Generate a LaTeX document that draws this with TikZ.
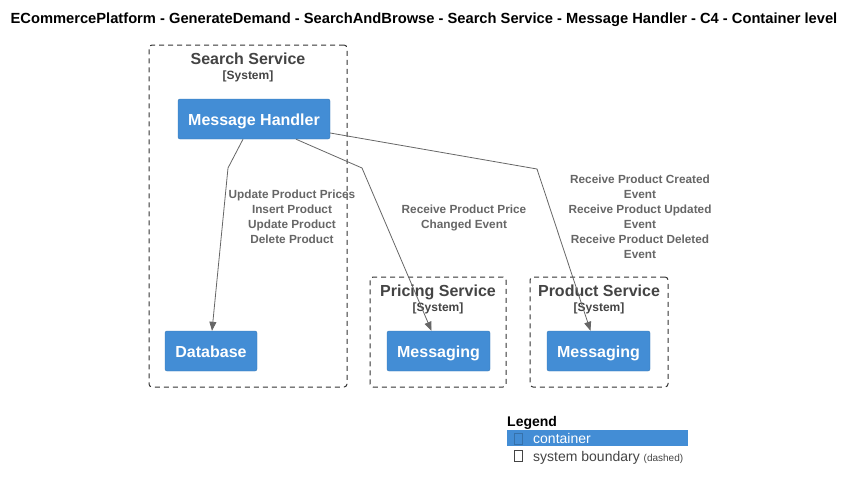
\documentclass[tikz,border=0pt]{standalone}
\usepackage{fontspec}
\setmainfont{Liberation Sans}
\usepackage{tikz}
\usetikzlibrary{positioning}
\usetikzlibrary{arrows.meta}

\definecolor{c4blue}{HTML}{438DD5}
\definecolor{c4dark}{HTML}{444444}
\definecolor{c4line}{HTML}{666666}

\begin{document}
\begin{tikzpicture}[x=1pt,y=-1pt,
  container/.style={fill=c4blue,draw=c4blue!85!black,line width=0.4pt,rounded corners=2pt,
    text=white,font=\fontsize{16}{19}\selectfont\bfseries,minimum height=40pt,inner sep=0pt,
    text height=14pt,text depth=0.5pt},
  boundary/.style={draw=black!80,dash pattern=on 5pt off 4pt,rounded corners=3pt,line width=1pt,inner sep=0pt},
  btitle/.style={text=c4dark,font=\fontsize{16}{19}\selectfont\bfseries,inner sep=0pt,anchor=base},
  bsub/.style={text=c4dark,font=\fontsize{12}{14}\selectfont\bfseries,inner sep=0pt,anchor=base},
  rel/.style={draw=c4line,line width=0.8pt,-{Triangle[length=9pt,width=7pt]}},
  rellabel/.style={text=c4line,align=center,font=\fontsize{11.8}{15}\selectfont\bfseries,inner sep=0pt},
  legtext/.style={anchor=base west,font=\fontsize{14}{16}\selectfont,inner sep=0pt},
  legkey/.style={minimum width=8pt,minimum height=11pt,inner sep=0pt,line width=0.5pt}]
\useasboundingbox (0,0) rectangle (855,490);
\node[font=\fontsize{14.7}{16}\selectfont\bfseries,inner sep=0pt] at(424,20)(0)
  {ECommercePlatform - GenerateDemand - SearchAndBrowse - Search Service - Message Handler - C4 - Container level};
% boundaries
\node[boundary,minimum width=198pt,minimum height=342pt] at(248,216)(s1) {};
\node[boundary,minimum width=136pt,minimum height=110pt] at(438,332)(s2) {};
\node[boundary,minimum width=138pt,minimum height=110pt] at(599,332)(s3) {};
\node[btitle] at(248,64)(t1) {Search Service};
\node[bsub] at(248,79.5)(u1) {[System]};
\node[btitle] at(438,296)(t2) {Pricing Service};
\node[bsub] at(438,311.5)(u2) {[System]};
\node[btitle] at(599,296)(t3) {Product Service};
\node[bsub] at(599,311.5)(u3) {[System]};
% containers
\node[container,minimum width=152pt] at(254,119)(1) {Message Handler};
\node[container,minimum width=92pt] at(211,351)(2) {Database};
\node[container,minimum width=103pt] at(438.5,351)(3) {Messaging};
\node[container,minimum width=103pt] at(598.5,351)(4) {Messaging};
% relations
\coordinate (b1) at(228,168);
\coordinate (b2) at(362,168);
\coordinate (b3) at(537,169);
\draw[rel] ([xshift=-11pt]1.south)--(b1)--([xshift=1pt]2.north);
\draw[rel] ([xshift=42pt]1.south)--(b2)--([xshift=-7pt]3.north);
\draw[rel] ([yshift=-14pt]1.east)--(b3)--([xshift=-8pt]4.north);
\node[rellabel] at(292,216.5)(r1) {Update Product Prices\\Insert Product\\Update Product\\Delete Product};
\node[rellabel] at(464,217.5)(r2) {Receive Product Price\\Changed Event};
\node[rellabel] at(640,217)(r3) {Receive Product Created\\Event\\Receive Product Updated\\Event\\Receive Product Deleted\\Event};
% legend
\node[legtext,font=\fontsize{14}{16}\selectfont\bfseries] at(507,426.5)(l0) {Legend};
\node[fill=c4blue,minimum width=181pt,minimum height=16pt,inner sep=0pt] at(597.5,438)(l1) {};
\node[legkey,draw=c4blue!80!black] at(518,438.5)(k1) {};
\node[legtext,text=white] at(533,443)(l2) {container};
\node[legkey,draw=c4dark] at(518,456)(k2) {};
\node[legtext,text=c4dark] at(533,461)(l3)
  {system boundary {\fontsize{10}{11}\selectfont(dashed)}};
\end{tikzpicture}
\end{document}
